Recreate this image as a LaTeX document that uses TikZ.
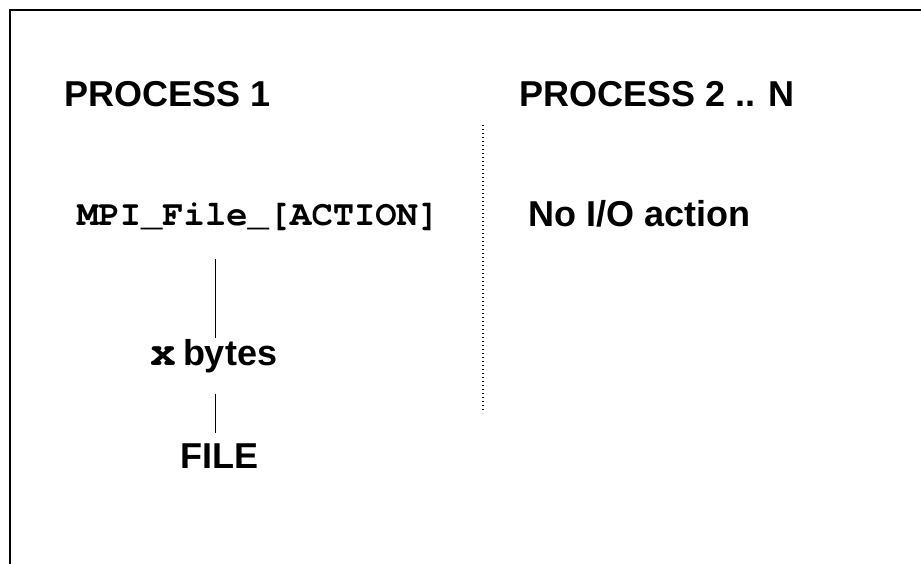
\documentclass[tikz,border=0pt]{standalone}
\usepackage{fontspec}
\setmainfont{Liberation Sans}
\setmonofont{TeX Gyre Cursor}
\begin{document}
\begin{tikzpicture}[x=1pt,y=1pt,
  lbl/.style={inner sep=0pt,anchor=base west,font=\fontsize{36}{40}\selectfont\bfseries},
  code/.style={inner sep=0pt,anchor=base west,font=\fontsize{35.5}{40}\selectfont\ttfamily\bfseries},
  conn/.style={line width=1pt},
  divider/.style={line width=1.2pt,dash pattern=on 1.2pt off 2.8pt}]
\useasboundingbox (0,0) rectangle (921,-563);
\draw[line width=2pt] (921,-10) -- (10,-10) -- (10,-564);
\node[lbl] (p1) at (64,-106) {PROCESS 1};
\node[lbl] (p2) at (519,-106) {PROCESS 2 .. N};
\node[code] (mpi) at (77,-225) {MPI\_File\_[ACTION]};
\node[lbl] (noio) at (528,-226) {No I/O action};
\node[lbl] (xb) at (150,-365) {{\fontsize{43}{44}\selectfont\ttfamily x}\hspace{-3pt} bytes};
\node[lbl] (file) at (180,-468) {FILE};
\coordinate (dtop) at (483,-125);
\coordinate (dbot) at (483,-413);
\draw[divider] (dtop) -- (dbot);
\draw[conn,shorten <=34pt,shorten >=1pt] (215,0 |- mpi.base) -- (215,0 |- xb.north);
\draw[conn,shorten <=21pt,shorten >=10pt] (215,0 |- xb.south) -- (215,0 |- file.north);
\end{tikzpicture}
\end{document}
